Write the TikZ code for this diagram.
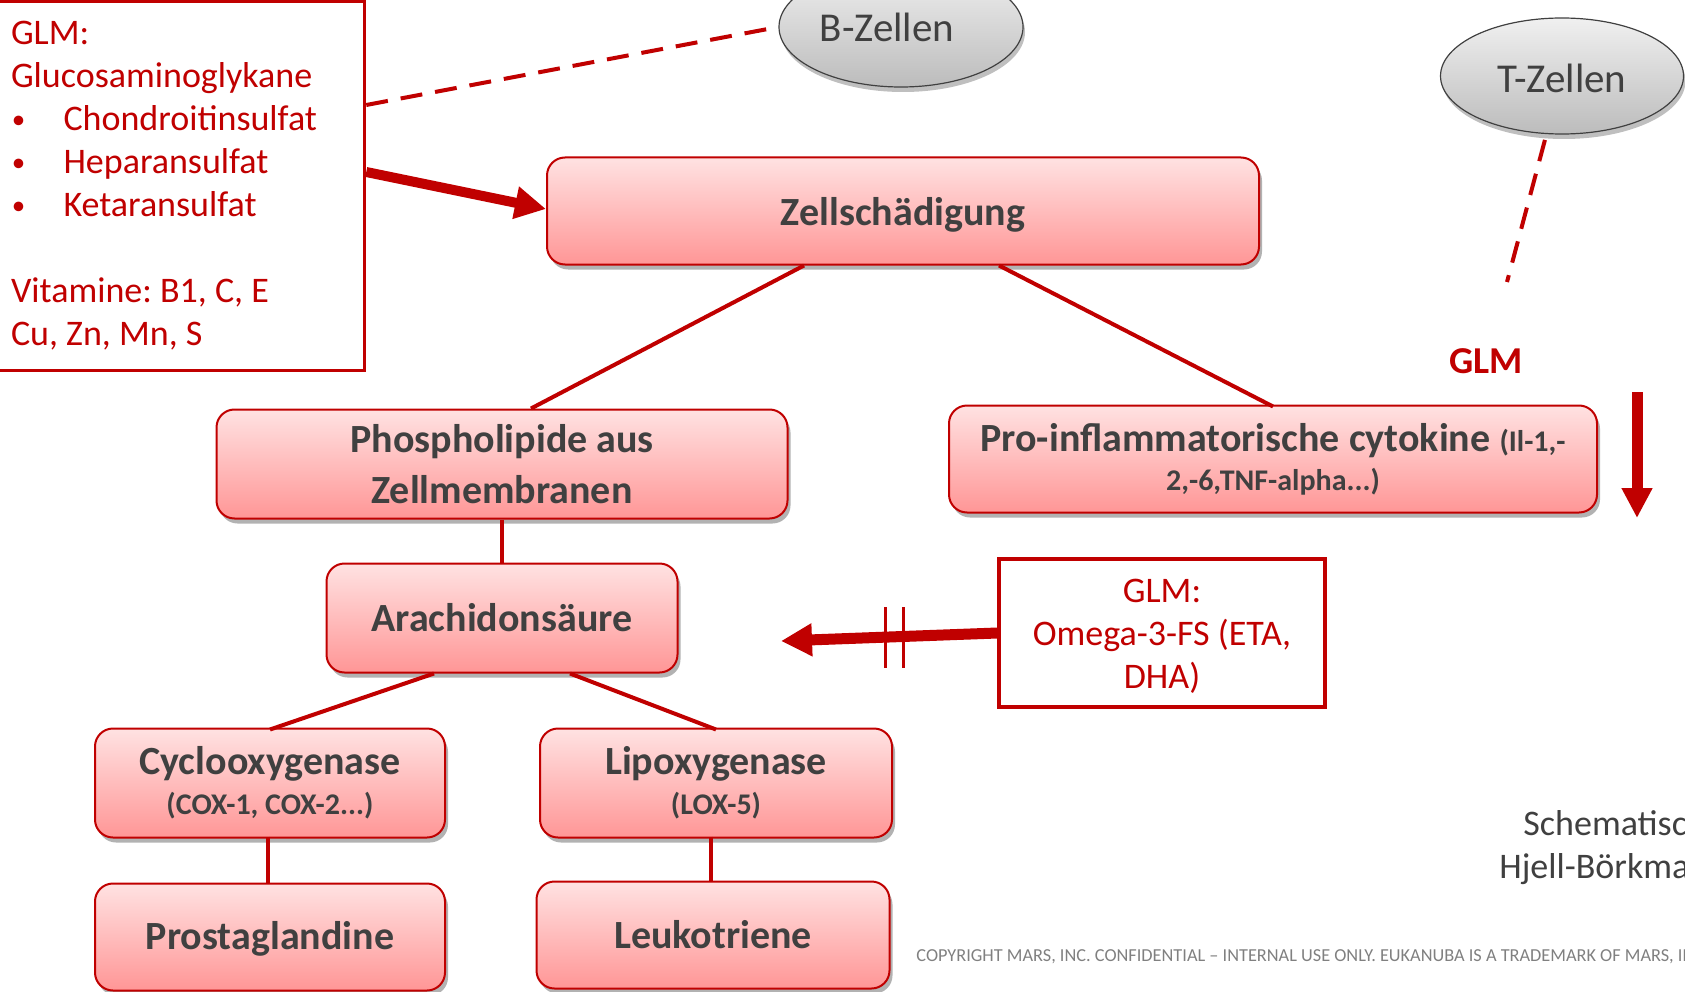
\documentclass[tikz,border=0pt]{standalone}
\usepackage{fontspec}
\setmainfont{Carlito}
\usetikzlibrary{shapes,arrows.meta,shadows,positioning,calc}
\definecolor{glmred}{RGB}{192,0,0}
\definecolor{boxtop}{RGB}{255,226,226}
\definecolor{boxbot}{RGB}{255,150,150}
\definecolor{txtgray}{RGB}{64,64,64}
\definecolor{celltop}{RGB}{240,240,240}
\definecolor{cellbot}{RGB}{188,188,188}
\newcommand{\smalltxt}{\fontsize{30}{36}\selectfont}
\newcommand{\glmbullet}{\hspace*{1pt}\makebox[51.5pt][l]{\raisebox{2pt}{\fontsize{27}{30}\selectfont\textbullet}}}
\newcommand{\sink}[2]{\raisebox{-#1}[\height][\depth]{#2}}

\begin{document}
\frenchspacing
\begin{tikzpicture}[x=1pt,y=-1pt,thick]
	\useasboundingbox (0,0) rectangle (1685,992);
	\tikzstyle{stage} = [draw=glmred,line width=2pt,rounded corners=18pt,top color=boxtop,bottom color=boxbot,
		text=txtgray,font=\bfseries\fontsize{40}{48}\selectfont,align=center,inner sep=0pt,
		drop shadow={shadow xshift=3pt,shadow yshift=-5pt,opacity=0.3,fill=black}]
	\tikzstyle{infobox} = [draw=glmred,line width=3.5pt,text=glmred,font=\fontsize{36}{43}\selectfont,inner sep=0pt]
	\tikzstyle{cell} = [ellipse,draw=txtgray,line width=1.2pt,top color=celltop,bottom color=cellbot,
		text=txtgray,font=\fontsize{41}{46}\selectfont,inner sep=0pt,
		drop shadow={shadow xshift=2pt,shadow yshift=-5pt,opacity=0.25,fill=black}]
	\tikzstyle{link} = [draw=glmred,line width=4pt]
	\tikzstyle{dashlink} = [draw=glmred,line width=4pt,dash pattern=on 22pt off 13pt]
	\tikzstyle{bigarrow} = [draw=glmred,line width=10pt,-{Triangle[length=31pt,width=31pt]}]
		% Immune cells
		\node[cell,minimum width=244pt,minimum height=120pt] at (901,27) (bz) {\hspace*{-28pt}B-Zellen};
		\node[cell,minimum width=243pt,minimum height=116pt] at (1562,76) (tz) {\sink{2pt}{T-Zellen}};
		\coordinate (tzend) at (1507,282);
		% GLM box
		\node[infobox,minimum width=367pt,minimum height=369pt,text width=340pt,align=left] at (181,186) (glm)
			{\spaceskip=0pt\xspaceskip=0pt\relax
			GLM:\\Glucosaminoglykane\\
			\glmbullet Chondroitinsulfat\\
			\glmbullet Heparansulfat\\
			\glmbullet Ketaransulfat\\[43pt]
			Vitamine: B1, C, E\\Cu, Zn, Mn, S};
		% Cell damage
		\node[stage,minimum width=712pt,minimum height=107pt] at (903,211) (zell) {\sink{4pt}{Zellschädigung}};
		\draw[dashlink] ([yshift=81pt]glm.east) -- (bz.west);
		\draw[bigarrow] ([yshift=14pt]glm.east) -- ([yshift=2pt]zell.west);
		\draw[dashlink,shorten <=6pt] (tz) -- (tzend);
		% Level 2
		\node[stage,minimum width=571pt,minimum height=109pt] at (502,464) (phos) {Phospholipide aus\\[3pt]Zellmembranen};
		\node[stage,minimum width=648pt,minimum height=107pt] at (1273,459) (pro)
			{Pro-inflammatorische cytokine {\smalltxt (Il-1,-}\\[-9pt]{\smalltxt 2,-6,TNF-alpha...)}};
		\draw[link] ([xshift=-99pt]zell.south) -- ([xshift=29pt]phos.north);
		\draw[link] ([xshift=96pt]zell.south) -- ([yshift=-2pt]pro.north);
		\node[text=glmred,font=\bfseries\fontsize{38}{46}\selectfont] at (1486,361) (glmlbl) {GLM};
		\coordinate (downtop) at (1637,392);
		\coordinate (downbot) at (1637,518);
		\draw[bigarrow,line width=11pt,-{Triangle[length=30pt,width=29pt]}] (downtop) -- (downbot);
		% Level 3
		\node[stage,minimum width=351pt,minimum height=109pt] at (502,618) (arach) {Arachidonsäure};
		\draw[link] (phos.south) -- (arach.north);
		\node[infobox,minimum width=326pt,minimum height=148pt,align=center] at (1162,633) (omega)
			{\sink{3pt}{GLM:}\\\sink{3pt}{Omega-3-FS (ETA,}\\\sink{3pt}{DHA)}};
		\coordinate (omegatip) at (781,641);
		\draw[bigarrow,line width=11pt] (omega.west) -- (omegatip);
		\coordinate (blk) at (894,636);
		\draw[link,line width=3pt] ([xshift=-9pt,yshift=29pt]blk) -- ([xshift=-9pt,yshift=-32pt]blk);
		\draw[link,line width=3pt] ([xshift=9pt,yshift=29pt]blk) -- ([xshift=9pt,yshift=-32pt]blk);
		% Level 4
		\node[stage,minimum width=350pt,minimum height=109pt] at (270,783) (cox) {Cyclooxygenase\\[-8pt]{\smalltxt (COX-1, COX-2...)}};
		\node[stage,minimum width=352pt,minimum height=109pt] at (716,783) (lox) {Lipoxygenase\\[-8pt]{\smalltxt (LOX-5)}};
		\draw[link] ([xshift=-68pt]arach.south) -- ([yshift=-2pt]cox.north);
		\draw[link] ([xshift=68pt]arach.south) -- ([yshift=-2pt]lox.north);
		% Level 5
		\node[stage,minimum width=350pt,minimum height=107pt] at (270,937) (prost) {\sink{2pt}{Prostaglandine}};
		\node[stage,minimum width=353pt,minimum height=107pt] at (713,935) (leuk) {Leukotriene};
		\draw[link] ([xshift=-2pt,yshift=2pt]cox.south) -- ([xshift=-2pt]prost.north);
		\draw[link] ([xshift=-5pt,yshift=2pt]lox.south) -- ([xshift=-2pt]leuk.north);
		% Notes
		\node[anchor=base west,text=txtgray,font=\fontsize{36}{43}\selectfont,inner sep=0pt] at (1523,835) (note1) {Schematisc};
		\node[anchor=base west,text=txtgray,font=\fontsize{36}{43}\selectfont,inner sep=0pt] at (1499,878) (note2) {Hjell-Börkma};
		\node[anchor=west,text=black!50,font=\fontsize{18.3}{21}\selectfont,inner sep=0pt] at (916,957) (copy)
			{COPYRIGHT MARS, INC. CONFIDENTIAL – INTERNAL USE ONLY. EUKANUBA IS A TRADEMARK OF MARS, IN};
\end{tikzpicture}
\end{document}
